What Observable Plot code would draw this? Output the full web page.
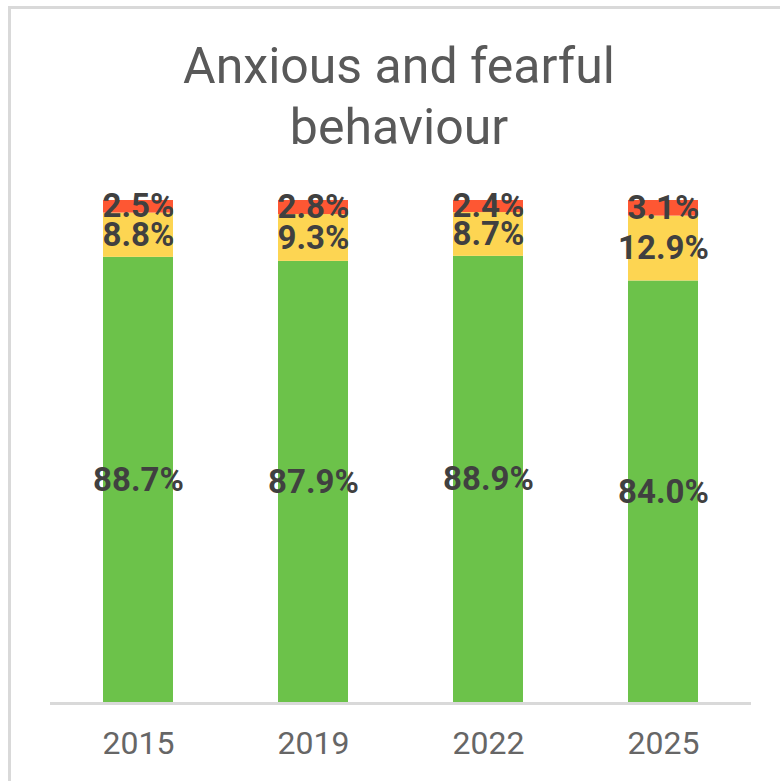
<!DOCTYPE html>
<html>
<head>
<meta charset="utf-8">
<script src="https://cdn.jsdelivr.net/npm/d3@7"></script>
<script src="https://cdn.jsdelivr.net/npm/@observablehq/plot@0.6"></script>
<style>
  html, body { margin: 0; padding: 0; background: #fff; }
  body { width: 780px; height: 781px; position: relative; overflow: hidden; font-family: Roboto, sans-serif; }
  #frame { position: absolute; left: 8px; top: 6px; width: 900px; height: 900px; border-left: 3px solid #d9d9d9; border-top: 3px solid #d9d9d9; box-sizing: border-box; }
  #title { position: absolute; left: 0; top: 36px; width: 798px; text-align: center; font-size: 50px; line-height: 61px; color: #595959; font-family: Roboto, sans-serif; }
  #chart { position: absolute; left: 0; top: 170px; }
</style>
</head>
<body>
<div id="frame"></div>
<div id="title">Anxious and fearful<br>behaviour</div>
<div id="chart"></div>
<script>
const years = ["2015", "2019", "2022", "2025"];
const seriesNames = ["Rarely", "Sometimes", "Often"];
const rarelyValues = [88.7, 87.9, 88.9, 84.0];
const sometimesValues = [8.8, 9.3, 8.7, 12.9];
const oftenValues = [2.5, 2.8, 2.4, 3.1];
const seriesColors = ["#6cc24a", "#fdd552", "#fe5733"];

const seriesValues = [rarelyValues, sometimesValues, oftenValues];
const data = [];
seriesNames.forEach((s, i) => {
  years.forEach((y, j) => data.push({year: y, series: s, value: seriesValues[i][j]}));
});

const chart = Plot.plot({
  width: 780,
  height: 611,
  marginTop: 30,
  marginBottom: 78,
  marginLeft: 50,
  marginRight: 29,
  style: {fontFamily: "Roboto, sans-serif", background: "transparent"},
  x: {domain: years, paddingInner: 0.6, paddingOuter: 0.3, label: null},
  y: {domain: [0, 100], axis: null},
  color: {type: "ordinal", domain: seriesNames, range: seriesColors},
  marks: [
    Plot.barY(data, {x: "year", y: "value", fill: "series", order: seriesNames}),
    Plot.ruleY([0], {stroke: "#d9d9d9", strokeWidth: 3}),
    Plot.text(data, Plot.stackY({x: "year", y: "value", z: "series", order: seriesNames,
      text: d => d.value.toFixed(1) + "%", fill: "#404040", fontWeight: "bold", fontSize: 33})),
    Plot.axisX({tickSize: 0, tickPadding: 28, fontSize: 32, fill: "#666666", label: null})
  ]
});
document.getElementById("chart").appendChild(chart);
</script>
</body>
</html>
